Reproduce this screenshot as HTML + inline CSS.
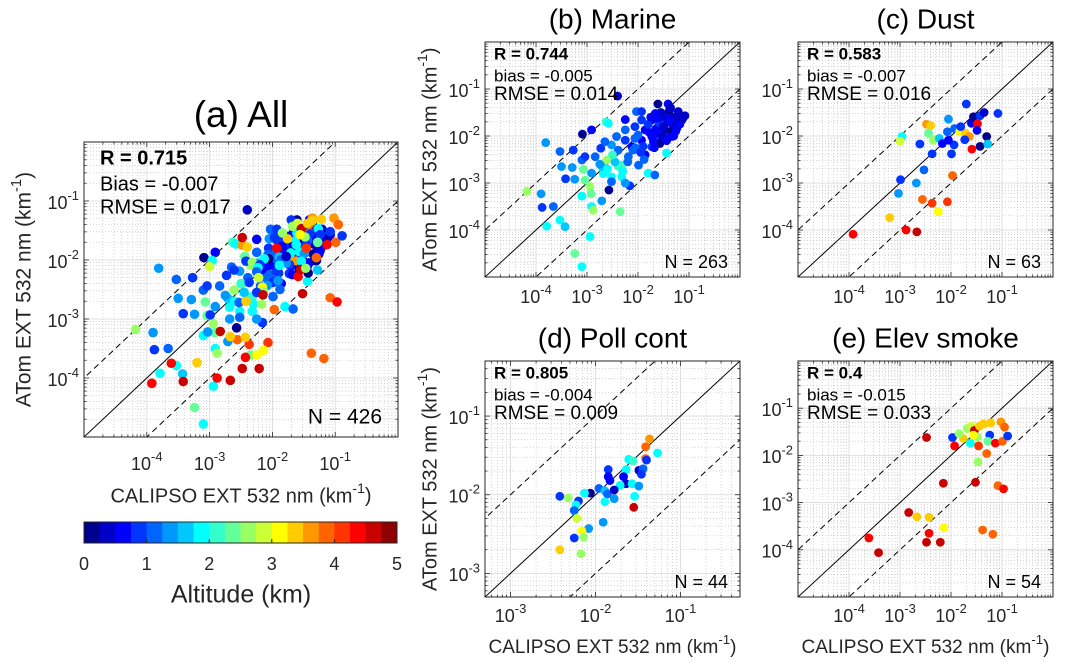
<!DOCTYPE html>
<html><head><meta charset="utf-8"><style>
html,body{margin:0;padding:0;background:#fff;width:1065px;height:670px;overflow:hidden;}
svg{display:block;font-family:"Liberation Sans",Arial,sans-serif;}
</style></head><body>
<svg id="fig" width="1065" height="670" viewBox="0 0 1065 670" xmlns="http://www.w3.org/2000/svg"></svg>
<script>
// ---- data (log10 extinction, km^-1) and altitude (km) ----
const marineX = [-2.40,-3.81,-3.09,-2.91,-2.63,-2.58,-2.03,-2.25,-1.61,-1.41,-1.08,-3.53,-3.50,-3.29,-3.07,-3.42,-3.24,-4.18,-3.90,-3.88,-3.66,-3.53,-3.79,-3.43,-3.10,-2.94,-2.92,-3.04,-2.91,-2.88,-2.71,-2.57,-2.35,-2.94,-3.24,-3.10,-2.16,-1.80,-1.67,-1.44,-1.86,-1.99,-2.32,-2.39,-2.61,-2.68,-2.52,-2.32,-2.73,-2.52,-2.39,-2.12,-1.93,-2.84,-2.71,-2.91,-2.06,-1.86,-1.73,-1.60,-1.47,-1.34,-1.24,-1.34,-1.54,-1.73,-1.93,-2.25,-2.42,-2.25,-2.65,-1.73,-1.14,-1.21,-1.47,-1.67,-1.93,-1.57,-2.06,-2.19,-3.10,-3.04,-3.27,-2.25,-2.52,-1.30,-1.40,-1.50,-1.35,-1.45,-1.55,-1.25,-1.65,-1.38,-1.28,-1.18,-1.48,-1.58,-1.42,-1.32,-1.62,-1.78,-1.70,-1.52,-1.38,-1.22,-1.12,-1.60,-1.80,-2.00,-1.90,-2.10,-1.68,-1.44,-1.30,-1.50,-1.88,-2.30,-2.45,-2.60,-2.75,-2.50,-2.20,-2.05,-1.95,-1.75,-1.55,-1.36,-1.26,-1.66];
const marineY = [-1.15,-2.14,-1.96,-1.87,-1.70,-1.73,-1.48,-1.65,-1.32,-1.32,-1.57,-2.33,-2.65,-2.67,-2.71,-2.91,-2.92,-3.18,-3.23,-3.52,-3.50,-3.79,-3.92,-3.93,-3.28,-3.08,-3.23,-2.94,-3.50,-3.58,-3.38,-3.15,-3.61,-4.14,-4.50,-4.78,-3.06,-2.79,-2.83,-2.36,-2.40,-2.62,-2.62,-2.64,-2.51,-2.80,-2.87,-2.87,-2.26,-2.19,-2.30,-2.23,-2.09,-2.44,-2.65,-2.79,-1.80,-1.87,-1.66,-1.80,-1.59,-1.73,-1.84,-2.01,-2.09,-2.01,-1.66,-1.87,-2.01,-2.09,-2.12,-2.23,-1.66,-1.48,-1.87,-1.55,-1.48,-2.16,-2.05,-2.44,-2.51,-2.44,-2.30,-3.00,-2.97,-1.60,-1.70,-1.75,-1.90,-1.55,-1.95,-1.70,-1.85,-1.45,-1.82,-1.75,-1.65,-1.72,-2.05,-1.92,-1.95,-1.92,-2.10,-2.00,-1.68,-1.60,-1.62,-1.62,-1.75,-1.98,-2.22,-2.30,-2.25,-2.10,-2.00,-1.80,-2.50,-2.75,-2.55,-2.70,-2.60,-2.40,-2.55,-2.25,-2.35,-1.60,-1.50,-1.40,-1.90,-1.52];
const marineAlt = [0.3,1.4,0.1,0.6,2.0,1.8,1.2,0.5,0.2,0.5,0.4,1.2,1.3,1.3,2.3,0.9,1.3,2.5,1.3,0.8,1.2,1.8,1.9,1.6,1.9,2.6,2.3,2.3,1.8,2.6,1.3,0.2,2.4,1.8,2.3,1.8,0.9,1.8,1.0,1.8,0.7,1.2,2.2,2.0,2.5,1.8,1.9,1.9,0.9,1.3,1.1,0.7,0.6,1.0,1.7,1.3,0.8,0.5,0.4,0.3,0.2,0.3,0.3,0.4,0.5,0.6,0.9,1.2,1.1,0.8,1.2,0.9,0.2,0.3,0.2,0.6,0.8,0.1,1.0,1.1,1.1,0.9,0.8,1.4,1.1,0.4,0.3,0.6,0.2,0.5,0.7,0.3,0.5,0.1,0.4,0.6,0.3,0.8,0.5,0.2,0.5,0.7,0.6,0.4,0.5,0.3,0.4,0.6,0.9,1.0,0.8,1.2,0.7,0.5,0.6,0.4,1.1,1.9,1.7,1.8,1.4,2.0,1.2,1.0,0.9,0.5,0.3,0.4,0.6,0.5];

const dustX = [-1.70,-2.05,-2.48,-2.40,-2.96,-3.00,-2.44,-2.35,-2.61,-2.23,-2.07,-1.93,-1.83,-1.72,-1.64,-1.60,-1.56,-1.43,-1.35,-1.08,-1.48,-1.43,-1.30,-1.28,-1.59,-1.99,-1.94,-2.05,-2.17,-2.37,-2.53,-2.99,-2.68,-3.03,-1.97,-2.56,-2.37,-2.07,-2.25,-3.20,-2.88,-2.67,-3.92,-1.81,-1.73,-1.49];
const dustY = [-1.32,-1.64,-1.75,-1.78,-2.01,-2.11,-1.94,-2.09,-2.17,-2.05,-1.91,-1.84,-1.91,-1.94,-2.01,-1.73,-1.59,-1.57,-1.50,-1.52,-1.74,-2.22,-2.01,-2.17,-2.28,-2.38,-2.19,-2.09,-2.16,-2.38,-2.72,-2.93,-3.00,-3.22,-2.84,-3.35,-3.43,-3.40,-3.61,-3.74,-4.00,-4.04,-4.09,-1.80,-2.08,-1.88];
const dustAlt = [0.8,1.4,3.7,3.4,1.9,2.8,2.3,2.6,0.9,1.5,1.0,1.0,3.0,3.3,3.6,0.6,0.2,0.8,0.3,0.8,4.3,0.2,0.2,1.5,4.3,0.8,0.8,0.7,0.6,0.8,1.2,0.8,1.4,1.4,3.9,3.9,4.0,4.1,3.0,3.4,4.3,4.6,4.3,0.9,0.9,0.5];

const pollX = [-1.365,-1.41,-1.41,-1.40,-1.27,-1.61,-1.56,-1.64,-1.85,-1.85,-1.83,-1.49,-1.44,-1.46,-1.67,-1.64,-1.71,-1.57,-1.49,-1.96,-1.89,-1.86,-1.78,-1.54,-1.55,-1.89,-2.06,-2.13,-2.42,-2.32,-2.20,-2.23,-2.25,-2.22,-2.08,-2.16,-2.14,-2.25,-1.91,-2.42,-2.17,-1.78];
const pollY = [-1.29,-1.39,-1.54,-1.56,-1.47,-1.55,-1.57,-1.68,-1.68,-1.77,-1.82,-1.69,-1.67,-1.74,-1.77,-1.86,-1.88,-1.86,-1.89,-1.92,-1.95,-1.99,-2.05,-2.02,-2.16,-2.09,-1.98,-1.98,-2.02,-2.04,-2.08,-2.13,-2.20,-2.30,-2.43,-2.46,-2.54,-2.55,-2.35,-2.70,-2.75,-1.94];
const pollAlt = [3.7,3.9,3.9,0.8,1.8,1.9,2.2,1.8,0.9,0.7,0.5,0.3,1.0,0.9,0.6,0.3,1.8,1.8,1.4,1.0,1.7,1.0,1.4,1.8,4.5,1.8,0.2,1.8,0.8,2.6,0.9,1.9,1.2,2.9,1.4,3.0,2.6,0.9,1.4,3.4,2.6,0.3];

const smokeX = [-2.48,-1.97,-1.93,-1.76,-1.68,-1.60,-1.54,-1.62,-1.48,-1.44,-1.36,-1.24,-1.22,-1.28,-1.46,-1.30,-1.13,-1.02,-0.95,-0.99,-0.89,-1.56,-1.84,-1.47,-2.15,-1.52,-1.08,-0.97,-2.83,-2.67,-2.43,-2.14,-2.43,-2.48,-2.21,-1.38,-1.18,-3.61,-3.42];
const smokeY = [-1.62,-1.62,-1.80,-1.64,-1.43,-1.38,-1.47,-1.74,-1.61,-1.38,-1.33,-1.57,-1.31,-1.70,-1.80,-1.96,-1.74,-1.29,-1.40,-1.70,-1.59,-1.57,-1.54,-2.14,-2.59,-2.57,-2.64,-2.71,-3.21,-3.30,-3.31,-3.53,-3.65,-3.84,-3.84,-3.58,-3.67,-3.75,-4.06];
const smokeAlt = [4.7,0.8,4.3,3.3,2.6,2.9,4.7,1.8,2.5,3.3,3.4,0.8,3.3,2.3,4.1,3.9,4.3,3.7,3.8,3.9,0.8,3.2,2.7,2.6,4.7,4.7,3.9,4.3,4.7,3.4,3.3,3.0,4.3,4.7,4.6,3.9,3.8,4.3,4.7];

const colorTicks = [0,1,2,3,4,5];
const jet20 = ['#00008f','#0000c8','#0000ff','#0034ff','#0064ff','#0098ff','#00c8ff','#00ffff','#34ffcc','#64ff98','#98ff64','#ccff34','#ffff00','#ffcc00','#ff9800','#ff6400','#ff3400','#ff0000','#c80000','#8f0000'];

const NS = 'http://www.w3.org/2000/svg';
const svg = document.getElementById('fig');
function mk(tag, attrs, parent){ const e=document.createElementNS(NS,tag); for(const k in attrs) e.setAttribute(k,attrs[k]); (parent||svg).appendChild(e); return e; }
function color(a){ let i=Math.floor(a/0.25); if(i<0)i=0; if(i>19)i=19; return jet20[i]; }
function powLabel(parent, x, y, exp, anchor, size){
  const t=mk('text',{x:x,y:y,'font-size':size,fill:'#262626','text-anchor':anchor,'dominant-baseline':'middle'},parent);
  t.appendChild(document.createTextNode('10'));
  const s=mk('tspan',{dy:-7,'font-size':size*0.72},t); s.textContent=String(exp);
  return t;
}

const panels = [
 {key:'a', L:84,R:398,T:142,B:437, x0:-5,x1:0,y0:-5,y1:0, ticks:[-4,-3,-2,-1], title:'(a) All', ty:117, tfs:37, r:4.8,
  stats:['R = 0.715','Bias = -0.007','RMSE = 0.017'], sdx:16, sdy:[17,43,66], sfs:[20,20,20], N:'N = 426', ndx:16, ndy:19, nfs:21,
  xs:[].concat(marineX,dustX,pollX,smokeX), ys:[].concat(marineY,dustY,pollY,smokeY), al:[].concat(marineAlt,dustAlt,pollAlt,smokeAlt),
  ylab:{x:25,fs:21}, xlab:{y:497,fs:20}, xty:465},
 {key:'b', L:485,R:740,T:42,B:277, x0:-5,x1:0,y0:-5,y1:0, ticks:[-4,-3,-2,-1], title:'(b) Marine', ty:21, tfs:28, r:4.4,
  stats:['R = 0.744','bias = -0.005','RMSE = 0.014'], sdx:9, sdy:[13,35,53], sfs:[17,17,19], N:'N = 263', ndx:12, ndy:14, nfs:18,
  xs:marineX, ys:marineY, al:marineAlt, ylab:{x:431,fs:20}, xty:298},
 {key:'c', L:798,R:1053,T:42,B:277, x0:-5,x1:0,y0:-5,y1:0, ticks:[-4,-3,-2,-1], title:'(c) Dust', ty:21, tfs:28, r:4.4,
  stats:['R = 0.583','bias = -0.007','RMSE = 0.016'], sdx:9, sdy:[13,35,53], sfs:[17,17,19], N:'N = 63', ndx:12, ndy:14, nfs:18,
  xs:dustX, ys:dustY, al:dustAlt, xty:298},
 {key:'d', L:485,R:740,T:361,B:597, x0:-3.3,x1:-0.3,y0:-3.3,y1:-0.3, ticks:[-3,-2,-1], title:'(d) Poll cont', ty:340, tfs:28, r:4.4,
  stats:['R = 0.805','bias = -0.004','RMSE = 0.009'], sdx:9, sdy:[13,35,53], sfs:[17,17,19], N:'N = 44', ndx:12, ndy:14, nfs:18,
  xs:pollX, ys:pollY, al:pollAlt, ylab:{x:431,fs:20}, xlab:{y:648,fs:19}, xty:617},
 {key:'e', L:798,R:1053,T:361,B:597, x0:-5,x1:0,y0:-5,y1:0, ticks:[-4,-3,-2,-1], title:'(e) Elev smoke', ty:340, tfs:28, r:4.4,
  stats:['R = 0.4','bias = -0.015','RMSE = 0.033'], sdx:9, sdy:[13,35,53], sfs:[17,17,19], N:'N = 54', ndx:12, ndy:14, nfs:18,
  xs:smokeX, ys:smokeY, al:smokeAlt, xlab:{y:648,fs:19}, xty:617}
];

panels.forEach(p=>{
  const g=mk('g',{});
  
  
  const sx=v=>p.L+(v-p.x0)/(p.x1-p.x0)*(p.R-p.L);
  const sy=v=>p.B-(v-p.y0)/(p.y1-p.y0)*(p.B-p.T);
  const cid='clip-'+p.key;
  const cp=mk('clipPath',{id:cid},g); mk('rect',{x:p.L,y:p.T,width:p.R-p.L,height:p.B-p.T},cp);
  mk('rect',{x:p.L,y:p.T,width:p.R-p.L,height:p.B-p.T,fill:'#fff'},g);
  const gg=mk('g',{'clip-path':'url(#'+cid+')'},g);
  
  
  for(let d=Math.floor(p.x0)-1; d<=Math.ceil(p.x1); d++){
    for(let m=2;m<=9;m++){ const v=d+Math.log10(m);
      if(v>p.x0&&v<p.x1){ mk('line',{x1:sx(v),x2:sx(v),y1:p.T,y2:p.B,stroke:'#bbb','stroke-width':0.6,'stroke-dasharray':'1,2'},gg); }
      if(v>p.y0&&v<p.y1){ mk('line',{y1:sy(v),y2:sy(v),x1:p.L,x2:p.R,stroke:'#bbb','stroke-width':0.6,'stroke-dasharray':'1,2'},gg); }
    }
    if(d>p.x0&&d<p.x1) mk('line',{x1:sx(d),x2:sx(d),y1:p.T,y2:p.B,stroke:'#d8d8d8','stroke-width':0.8},gg);
    if(d>p.y0&&d<p.y1) mk('line',{y1:sy(d),y2:sy(d),x1:p.L,x2:p.R,stroke:'#d8d8d8','stroke-width':0.8},gg);
  }
  const lg=mk('g',{'clip-path':'url(#'+cid+')'},g);
  [[0,'none','one-to-one-line'],[1,'6,4','upper-factor-10-line'],[-1,'6,4','lower-factor-10-line']].forEach(o=>{
    const ln=mk('line',{x1:sx(p.x0-1),y1:sy(p.x0-1+o[0]),x2:sx(p.x1+1),y2:sy(p.x1+1+o[0]),stroke:'#000','stroke-width':1,'stroke-dasharray':o[1]},lg);
    
    
  });
  const pg=mk('g',{},g);
  const n=Math.min(p.xs.length,p.ys.length,p.al.length);
  for(let i=0;i<n;i++){
    const c=mk('circle',{cx:sx(p.xs[i]),cy:sy(p.ys[i]),r:p.r,fill:color(p.al[i])},pg);
    
    
  }
  const bx=mk('rect',{x:p.L,y:p.T,width:p.R-p.L,height:p.B-p.T,fill:'none',stroke:'#262626','stroke-width':1},g);
  
  
  for(let d=Math.floor(p.x0)-1; d<=Math.ceil(p.x1); d++){
    for(let m=1;m<=9;m++){ const v=d+Math.log10(m); const len=m===1?5:2.5;
      if(v>p.x0&&v<p.x1){ mk('line',{x1:sx(v),x2:sx(v),y1:p.B,y2:p.B-len,stroke:'#262626','stroke-width':0.8},g); mk('line',{x1:sx(v),x2:sx(v),y1:p.T,y2:p.T+len,stroke:'#262626','stroke-width':0.8},g); }
      if(v>p.y0&&v<p.y1){ mk('line',{y1:sy(v),y2:sy(v),x1:p.L,x2:p.L+len,stroke:'#262626','stroke-width':0.8},g); mk('line',{y1:sy(v),y2:sy(v),x1:p.R,x2:p.R-len,stroke:'#262626','stroke-width':0.8},g); }
    }
  }
  p.ticks.forEach(t=>{
    const xl=powLabel(g,sx(t),p.xty,t,'middle',18);
    
    
    const yl=powLabel(g,p.L-5,sy(t)+3,t,'end',18);
    
    
  });
  const tt=mk('text',{x:(p.L+p.R)/2,y:p.ty,'font-size':p.tfs,fill:'#000','text-anchor':'middle','dominant-baseline':'middle'},g);
  tt.textContent=p.title;
  
  
  p.stats.forEach((s,i)=>{
    const st=mk('text',{x:p.L+p.sdx,y:p.T+p.sdy[i],'font-size':p.sfs[i],fill:'#000','dominant-baseline':'middle','font-weight':i===0?'bold':'normal'},g);
    st.textContent=s;
    
    
  });
  const nt=mk('text',{x:p.R-p.ndx,y:p.B-p.ndy,'font-size':p.nfs,fill:'#000','text-anchor':'end','dominant-baseline':'middle'},g);
  nt.textContent=p.N;
  
  
  if(p.ylab){
    const cy=(p.T+p.B)/2;
    const fs=p.ylab.fs;
    const yt=mk('text',{x:p.ylab.x,y:cy,'font-size':fs,fill:'#262626','text-anchor':'middle','dominant-baseline':'middle',transform:'rotate(-90 '+p.ylab.x+' '+cy+')'},g);
    yt.appendChild(document.createTextNode('ATom EXT 532 nm (km'));
    const s1=mk('tspan',{dy:-8,'font-size':fs*0.7},yt); s1.textContent='-1';
    const s2=mk('tspan',{dy:8},yt); s2.textContent=')';
    
    
  }
  if(p.xlab){
    const fs=p.xlab.fs;
    const xt=mk('text',{x:(p.L+p.R)/2,y:p.xlab.y,'font-size':fs,fill:'#262626','text-anchor':'middle','dominant-baseline':'middle'},g);
    xt.appendChild(document.createTextNode('CALIPSO EXT 532 nm (km'));
    const s1=mk('tspan',{dy:-8,'font-size':fs*0.7},xt); s1.textContent='-1';
    const s2=mk('tspan',{dy:8},xt); s2.textContent=')';
    
    
  }
});

const cb=mk('g',{});


const cL=84,cR=397,cT=522,cB=543;
const cs=v=>cL+v/5*(cR-cL);
jet20.forEach((c,i)=>{
  const r=mk('rect',{x:cs(i*0.25),y:cT,width:cs(0.25)-cs(0)+0.5,height:cB-cT,fill:c},cb);
  
  
});
mk('rect',{x:cL,y:cT,width:cR-cL,height:cB-cT,fill:'none',stroke:'#262626','stroke-width':1},cb);
colorTicks.forEach(t=>{
  mk('line',{x1:cs(t),x2:cs(t),y1:cB,y2:cB-4,stroke:'#262626','stroke-width':1},cb);
  const tl=mk('text',{x:cs(t),y:565,'font-size':18,fill:'#262626','text-anchor':'middle','dominant-baseline':'middle'},cb);
  tl.textContent=String(t);
  
  
});
const cbl=mk('text',{x:241,y:596,'font-size':25,fill:'#262626','text-anchor':'middle','dominant-baseline':'middle'},cb);
cbl.textContent='Altitude (km)';


</script>
</body></html>
